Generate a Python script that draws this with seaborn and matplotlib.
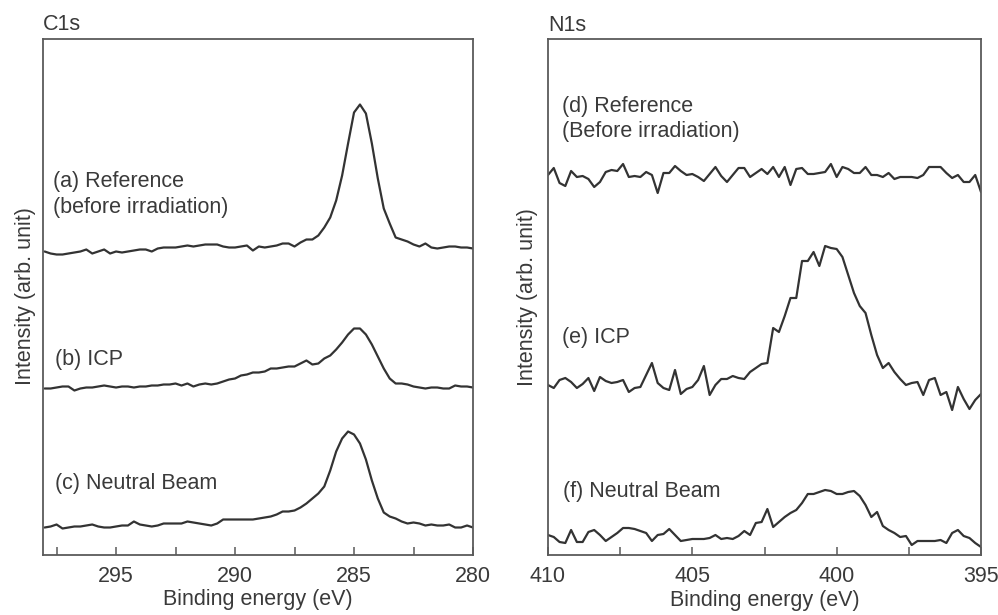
import matplotlib
matplotlib.use("Agg")
import matplotlib.pyplot as plt
import numpy as np
import pandas as pd
import seaborn as sns
from matplotlib.ticker import MultipleLocator

# ---------------- data (arbitrary intensity units) ----------------
c1s_energy = [298.0, 297.75, 297.5, 297.25, 297.0, 296.75, 296.5, 296.25, 296.0, 295.75,
              295.5, 295.25, 295.0, 294.75, 294.5, 294.25, 294.0, 293.75, 293.5, 293.25,
              293.0, 292.75, 292.5, 292.25, 292.0, 291.75, 291.5, 291.25, 291.0, 290.75,
              290.5, 290.25, 290.0, 289.75, 289.5, 289.25, 289.0, 288.75, 288.5, 288.25,
              288.0, 287.75, 287.5, 287.25, 287.0, 286.75, 286.5, 286.25, 286.0, 285.75,
              285.5, 285.25, 285.0, 284.75, 284.5, 284.25, 284.0, 283.75, 283.5, 283.25,
              283.0, 282.75, 282.5, 282.25, 282.0, 281.75, 281.5, 281.25, 281.0, 280.75,
              280.5, 280.25, 280.0]

c1s_a_reference = [303, 301, 300, 300, 301, 302, 303, 305, 301, 303,
                   305, 301, 303, 302, 303, 304, 305, 305, 303, 306,
                   307, 307, 307, 308, 309, 308, 309, 310, 310, 310,
                   308, 307, 307, 308, 309, 304, 308, 307, 308, 309,
                   311, 311, 308, 312, 315, 315, 319, 327, 337, 354,
                   379, 411, 442, 450, 441, 411, 376, 346, 331, 317,
                   315, 313, 310, 308, 311, 307, 306, 307, 308, 308,
                   307, 307, 306]

c1s_b_icp = [166, 166, 167, 168, 168, 164, 166, 167, 167, 168,
             169, 168, 167, 168, 168, 167, 168, 168, 169, 169,
             170, 170, 171, 169, 171, 168, 170, 171, 170, 171,
             173, 175, 176, 179, 180, 182, 182, 183, 186, 186,
             187, 188, 188, 191, 194, 190, 191, 196, 199, 205,
             212, 220, 226, 226, 220, 210, 198, 186, 176, 171,
             171, 170, 168, 167, 166, 167, 167, 166, 166, 169,
             168, 168, 167]

c1s_c_neutral = [27, 28, 30, 26, 27, 28, 28, 29, 30, 28,
                 27, 27, 28, 29, 29, 33, 30, 29, 28, 29,
                 31, 31, 31, 31, 33, 32, 31, 30, 29, 31,
                 35, 35, 35, 35, 35, 35, 36, 37, 38, 40,
                 43, 43, 44, 47, 51, 56, 61, 68, 84, 103,
                 116, 123, 120, 111, 95, 74, 56, 42, 38, 36,
                 33, 31, 32, 31, 29, 30, 29, 29, 30, 27,
                 27, 29, 27]

n1s_energy = [410.0, 409.8, 409.6, 409.4, 409.2, 409.0, 408.8, 408.6, 408.4, 408.2,
              408.0, 407.8, 407.6, 407.4, 407.2, 407.0, 406.8, 406.6, 406.4, 406.2,
              406.0, 405.8, 405.6, 405.4, 405.2, 405.0, 404.8, 404.6, 404.4, 404.2,
              404.0, 403.8, 403.6, 403.4, 403.2, 403.0, 402.8, 402.6, 402.4, 402.2,
              402.0, 401.8, 401.6, 401.4, 401.2, 401.0, 400.8, 400.6, 400.4, 400.2,
              400.0, 399.8, 399.6, 399.4, 399.2, 399.0, 398.8, 398.6, 398.4, 398.2,
              398.0, 397.8, 397.6, 397.4, 397.2, 397.0, 396.8, 396.6, 396.4, 396.2,
              396.0, 395.8, 395.6, 395.4, 395.2, 395.0]

n1s_d_reference = [380, 387, 372, 369, 384, 378, 379, 376, 368, 373,
                   383, 385, 384, 391, 378, 379, 378, 383, 380, 362,
                   382, 382, 389, 384, 380, 381, 378, 374, 381, 388,
                   379, 373, 380, 387, 387, 378, 382, 386, 381, 388,
                   378, 388, 370, 386, 387, 381, 381, 382, 383, 391,
                   378, 388, 386, 382, 382, 388, 380, 380, 378, 382,
                   376, 378, 378, 378, 377, 380, 388, 388, 388, 382,
                   377, 380, 373, 373, 380, 363]

n1s_e_icp = [170, 167, 175, 177, 173, 167, 171, 177, 164, 178,
             174, 172, 173, 175, 163, 167, 168, 180, 192, 172,
             167, 165, 185, 161, 166, 168, 175, 189, 160, 170,
             176, 176, 179, 177, 176, 183, 187, 191, 192, 227,
             223, 239, 257, 257, 294, 294, 303, 289, 309, 307,
             306, 298, 280, 262, 249, 242, 220, 200, 187, 192,
             183, 176, 170, 172, 173, 160, 175, 177, 160, 163,
             145, 168, 156, 146, 155, 161]

n1s_f_neutral = [20, 18, 13, 12, 25, 13, 13, 23, 25, 20,
                 14, 18, 22, 27, 27, 26, 24, 22, 14, 20,
                 21, 26, 20, 14, 15, 16, 16, 16, 17, 20,
                 16, 17, 16, 19, 24, 20, 32, 33, 46, 28,
                 33, 38, 42, 45, 52, 61, 61, 63, 65, 64,
                 61, 61, 63, 64, 59, 50, 38, 43, 29, 25,
                 22, 18, 19, 10, 14, 14, 14, 14, 15, 12,
                 22, 25, 19, 17, 12, 8]

c1s_labels = ["(a) Reference\n(before irradiation)", "(b) ICP", "(c) Neutral Beam"]
n1s_labels = ["(d) Reference\n(Before irradiation)", "(e) ICP", "(f) Neutral Beam"]

# ---------------- style ----------------
sns.set_theme(style="white")
plt.rcParams['font.family'] = ['Liberation Sans', 'DejaVu Sans']

TXT = '#3a3a3a'
LINE = '#333333'
SPINE = '#5a5a5a'
FS = 15.5

fig = plt.figure(figsize=(9.98, 6.15), dpi=100)
ax1 = fig.add_axes([43 / 998, 1 - 554.5 / 615, 430 / 998, 516 / 615])
ax2 = fig.add_axes([548 / 998, 1 - 555 / 615, 433 / 998, 516 / 615])

c1s_df = pd.DataFrame({'energy': c1s_energy, 'a': c1s_a_reference,
                       'b': c1s_b_icp, 'c': c1s_c_neutral})
n1s_df = pd.DataFrame({'energy': n1s_energy, 'd': n1s_d_reference,
                       'e': n1s_e_icp, 'f': n1s_f_neutral})

for col in ['a', 'b', 'c']:
    sns.lineplot(data=c1s_df, x='energy', y=col, ax=ax1, color=LINE, linewidth=1.6)
for col in ['d', 'e', 'f']:
    sns.lineplot(data=n1s_df, x='energy', y=col, ax=ax2, color=LINE, linewidth=1.6)

ax1.set_xlim(298.07, 280)
ax2.set_xlim(410, 395)

for ax, title, lp in [(ax1, 'C1s', 5), (ax2, 'N1s', 7)]:
    ax.set_ylim(0, 516)
    ax.set_yticks([])
    ax.xaxis.set_major_locator(MultipleLocator(5))
    ax.xaxis.set_minor_locator(MultipleLocator(2.5))
    ax.tick_params(axis='x', which='both', direction='in', length=6, width=1.1,
                   color=SPINE, bottom=True, top=False, labelsize=FS,
                   labelcolor=TXT, pad=8)
    ax.set_xlabel('Binding energy (eV)', fontsize=FS, color=TXT, labelpad=2)
    ax.set_ylabel('Intensity (arb. unit)', fontsize=FS, color=TXT, labelpad=lp)
    ax.set_title(title, loc='left', fontsize=FS, color=TXT, pad=6)
    for s in ax.spines.values():
        s.set_visible(True)
        s.set_color(SPINE)
        s.set_linewidth(1.3)

# annotations
c1s_label_pos = [(297.65, 360), (297.56, 195), (297.56, 71)]
n1s_label_pos = [(409.53, 436), (409.53, 217), (409.48, 64)]
for (x, y), lab in zip(c1s_label_pos, c1s_labels):
    ax1.text(x, y, lab, ha='left', va='center', fontsize=FS, color=TXT, linespacing=1.25)
for (x, y), lab in zip(n1s_label_pos, n1s_labels):
    ax2.text(x, y, lab, ha='left', va='center', fontsize=FS, color=TXT, linespacing=1.25)

fig.savefig('out.png', dpi=100)
